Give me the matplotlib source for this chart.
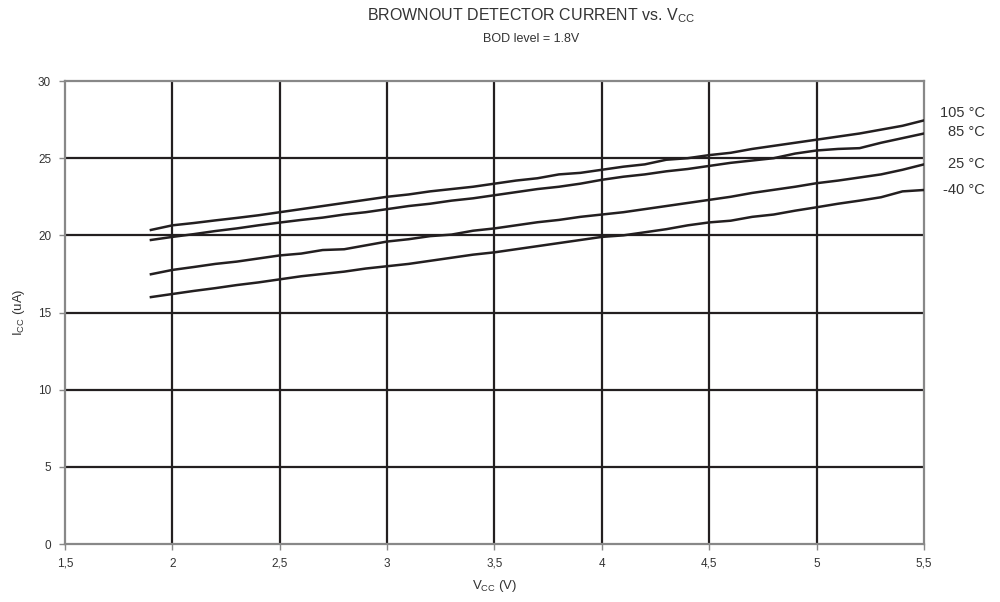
import numpy as np
import matplotlib
matplotlib.use("Agg")
import matplotlib.pyplot as plt

plt.rcParams['font.family'] = ['Liberation Sans', 'DejaVu Sans']
plt.rcParams['mathtext.fontset'] = 'custom'
plt.rcParams['mathtext.rm'] = 'Liberation Sans'
plt.rcParams['mathtext.it'] = 'Liberation Sans'

# supply voltage (V)
vcc = [1.9, 2.0, 2.1, 2.2, 2.3, 2.4, 2.5, 2.6, 2.7, 2.8, 2.9, 3.0, 3.1, 3.2, 3.3, 3.4,
       3.5, 3.6, 3.7, 3.8, 3.9, 4.0, 4.1, 4.2, 4.3, 4.4, 4.5, 4.6, 4.7, 4.8, 4.9, 5.0,
       5.1, 5.2, 5.3, 5.4, 5.5]

# Icc (uA) per temperature
icc_105 = [20.35, 20.65, 20.8, 20.97, 21.13, 21.3, 21.5, 21.7, 21.9, 22.1, 22.3, 22.5,
           22.65, 22.85, 23.0, 23.15, 23.35, 23.55, 23.7, 23.95, 24.05, 24.25, 24.45,
           24.6, 24.9, 25.0, 25.2, 25.35, 25.6, 25.8, 26.0, 26.2, 26.4, 26.6, 26.85,
           27.1, 27.45]
icc_85 = [19.7, 19.9, 20.08, 20.28, 20.45, 20.65, 20.83, 21.0, 21.15, 21.35, 21.5, 21.7,
          21.9, 22.05, 22.25, 22.4, 22.6, 22.8, 23.0, 23.15, 23.35, 23.6, 23.8, 23.95,
          24.15, 24.3, 24.5, 24.7, 24.85, 25.0, 25.3, 25.5, 25.6, 25.65, 26.0, 26.3, 26.6]
icc_25 = [17.48, 17.76, 17.95, 18.15, 18.3, 18.5, 18.7, 18.82, 19.05, 19.1, 19.35, 19.6,
          19.75, 19.95, 20.05, 20.3, 20.45, 20.65, 20.85, 21.0, 21.2, 21.35, 21.5, 21.7,
          21.9, 22.1, 22.3, 22.5, 22.75, 22.95, 23.15, 23.38, 23.55, 23.75, 23.95,
          24.25, 24.6]
icc_m40 = [16.0, 16.2, 16.4, 16.58, 16.78, 16.95, 17.15, 17.35, 17.5, 17.65, 17.85, 18.0,
           18.15, 18.35, 18.55, 18.75, 18.9, 19.1, 19.3, 19.5, 19.7, 19.9, 20.0, 20.2,
           20.4, 20.65, 20.84, 20.95, 21.2, 21.35, 21.6, 21.82, 22.05, 22.25, 22.47,
           22.85, 22.94]

series = [icc_105, icc_85, icc_25, icc_m40]
labels = ["105 °C", "85 °C", "25 °C", "-40 °C"]
label_dy = [5, 1, 0, 0]  # point offsets for the end labels

xticks = [1.5, 2, 2.5, 3, 3.5, 4, 4.5, 5, 5.5]
xtick_labels = ["1,5", "2", "2,5", "3", "3,5", "4", "4,5", "5", "5,5"]
yticks = [0, 5, 10, 15, 20, 25, 30]

txt = "#333333"
grid_c = "#231f20"

fig = plt.figure(figsize=(10, 6.02), dpi=100)
ax = fig.add_axes([0.065, 0.0963, 0.859, 0.7691])

for xv in xticks[1:-1]:
    ax.axvline(xv, color=grid_c, lw=1.6, zorder=1)
for yv in yticks[1:-1]:
    ax.axhline(yv, color=grid_c, lw=1.6, zorder=1)

for ys, lab, dy in zip(series, labels, label_dy):
    ax.plot(vcc, ys, color=grid_c, lw=1.8, zorder=3)
    ax.annotate(lab, xy=(1.0, ys[-1]), xycoords=("axes fraction", "data"),
                xytext=(44, dy), textcoords="offset points", ha="right", va="center",
                fontsize=10.5, color=txt)

ax.set_xlim(1.5, 5.5)
ax.set_ylim(0, 30)
ax.set_xticks(xticks)
ax.set_xticklabels(xtick_labels)
ax.set_yticks(yticks)
for s in ax.spines.values():
    s.set_color("#888888")
    s.set_linewidth(1.6)
ax.tick_params(direction="out", length=4, width=1, color="#888888",
               labelsize=8.5, labelcolor=txt, pad=6)

ax.set_xlabel("V$_{\\rm CC}$ (V)", fontsize=9.5, color=txt, labelpad=6)
ax.set_ylabel("I$_{\\rm CC}$ (uA)", fontsize=9.5, color=txt, labelpad=8)

fig.text(0.531, 0.974, "BROWNOUT DETECTOR CURRENT vs. V$_{\\rm CC}$", ha="center",
         va="center", fontsize=11.5, color=txt)
fig.text(0.531, 0.936, "BOD level = 1.8V", ha="center", va="center", fontsize=9,
         color=txt)

plt.savefig("out.png", dpi=100)
